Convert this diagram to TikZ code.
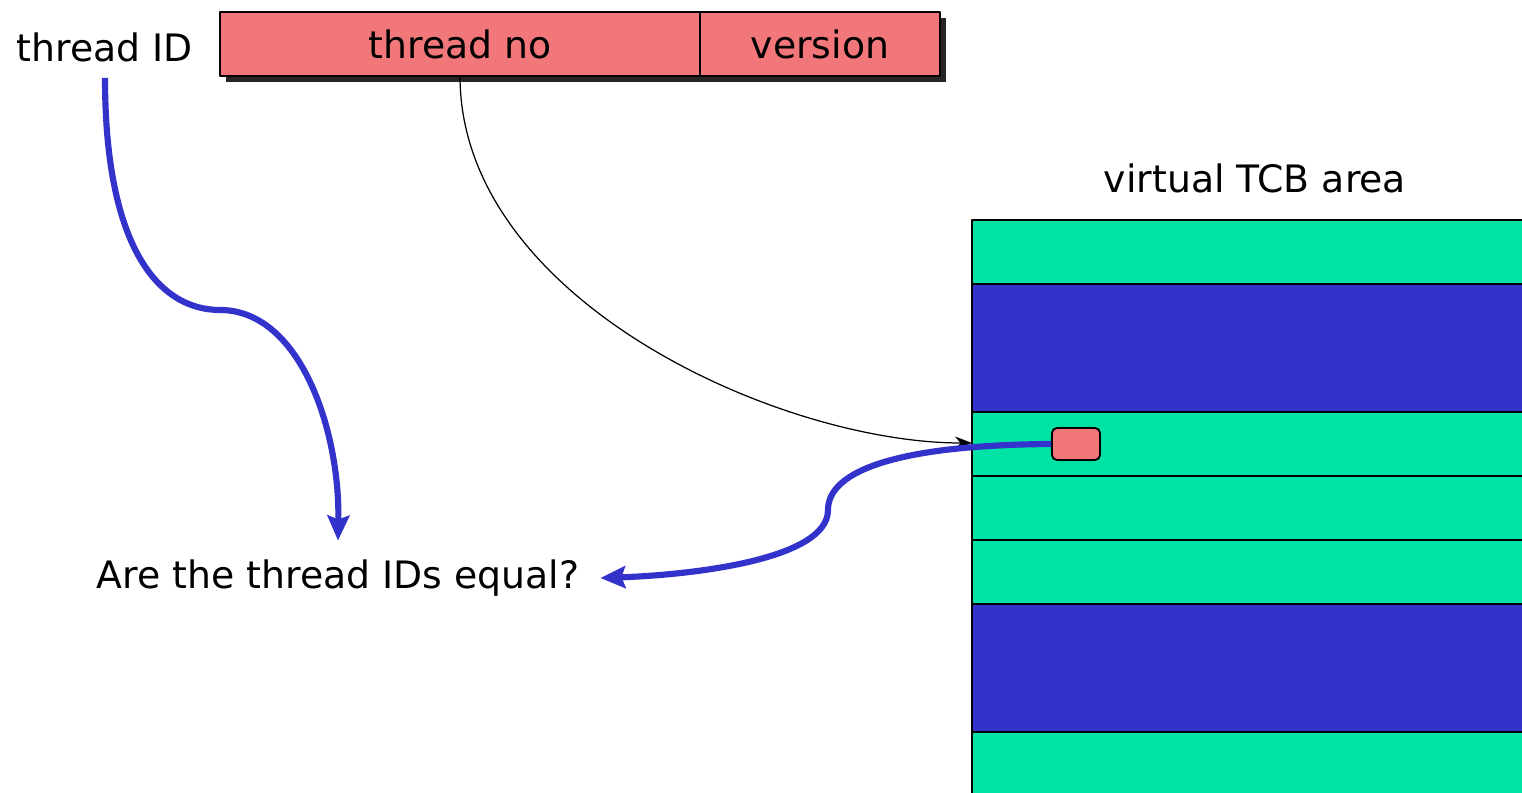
\documentclass[tikz,border=0pt]{standalone}
\usepackage{fontspec}
\setmainfont{DejaVu Sans}
\usetikzlibrary{arrows.meta}
\definecolor{idred}{HTML}{F2777B}
\definecolor{tcbgreen}{HTML}{00E3A6}
\definecolor{tcbblue}{HTML}{3333CC}
\begin{document}
\begin{tikzpicture}[x=0.02cm, y=-0.02cm, font=\fontsize{21.5}{26}\selectfont, line join=round,
    cell/.style={draw, line width=1.1pt, fill=idred, minimum height=1.28cm, inner sep=0pt, outer sep=0pt},
    slot/.style={draw, line width=1.1pt, fill=idred, rounded corners=0.1cm, minimum width=0.96cm, minimum height=0.64cm},
    flow/.style={tcbblue, line width=3.5pt, -{Stealth[length=0.5cm, width=0.44cm, inset=0.08cm]}},
    map/.style={line width=0.7pt, -{Stealth[length=0.34cm, width=0.26cm]}}]
    \useasboundingbox (0,0) rectangle (1522,793);
    % id word
    \fill[black!85] (226,18) rectangle (946,82);
    \node[cell, minimum width=9.6cm] (tno) at (460,44) {thread no};
    \node[cell, minimum width=4.8cm] (ver) at (820,44) {version};
    \node (tid) at (105,47) {thread ID};
    % tcb area
    \foreach \ya/\yb/\c in {220/284/tcbgreen, 284/412/tcbblue, 412/476/tcbgreen, 476/540/tcbgreen,
        540/604/tcbgreen, 604/732/tcbblue, 732/800/tcbgreen}
        \filldraw[fill=\c, draw=black, line width=1.1pt] (972,\ya) rectangle (1530,\yb);
    \node (area) at (1255,178) {virtual TCB area};
    \node[slot] (slot) at (1076,444) {};
    \coordinate (entry) at (972,443);
    \node (q) at (338,578) {Are the thread IDs equal?};
    % arrows
    \draw[map] (tno.south) .. controls (460,300) and (780,443) .. (entry);
    \draw[flow] ([yshift=-0.2cm]tid.south) .. controls (105,250) and (160,310) .. (220,310)
        .. controls (300,310) and (340,430) .. ([yshift=0.26cm]q.north);
    \draw[flow] (slot.west) .. controls (900,445) and (828,470) .. (828,510)
        .. controls (828,560) and (690,575) .. ([xshift=0.3cm]q.east);
\end{tikzpicture}
\end{document}
